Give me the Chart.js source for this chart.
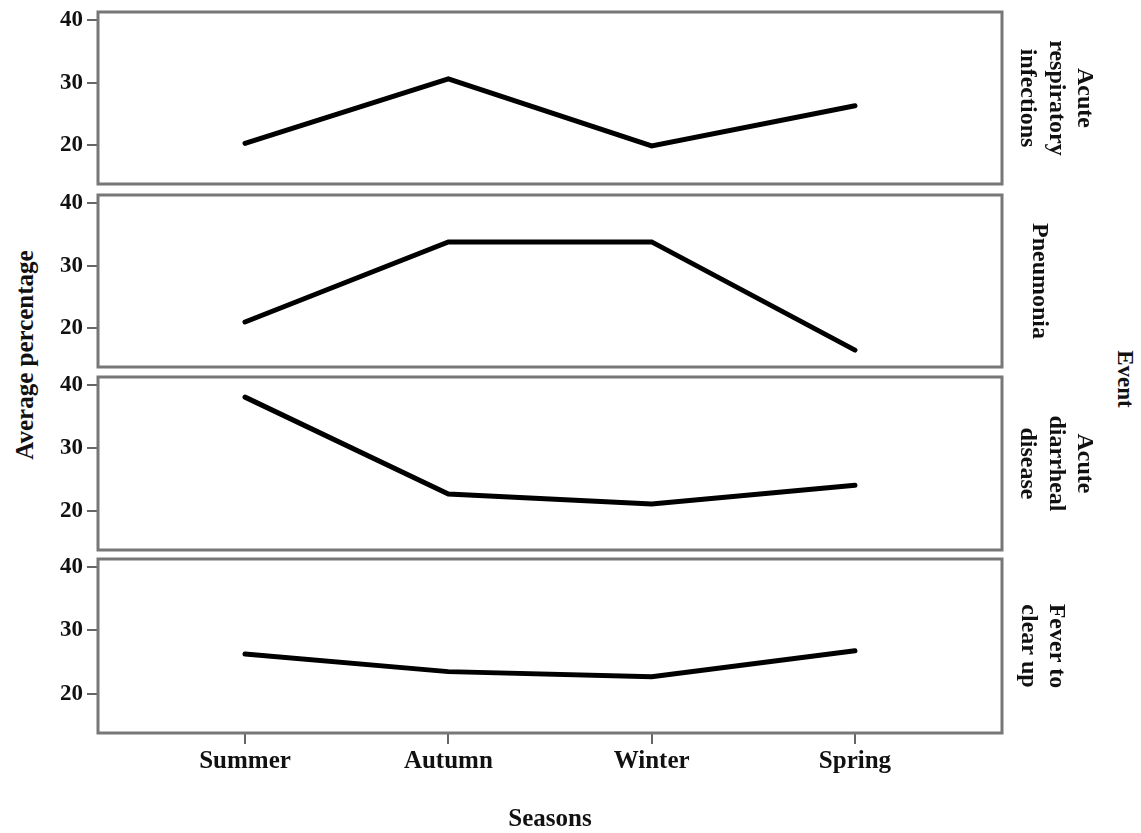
<!DOCTYPE html>
<html>
<head>
<meta charset="utf-8">
<script src="https://cdn.jsdelivr.net/npm/chart.js@4.4.0/dist/chart.umd.min.js"></script>
<style>
  body { margin: 0; background: #fff; }
  #wrap { position: relative; width: 1141px; height: 833px; overflow: hidden;
          font-family: 'Liberation Serif', 'Times New Roman', serif; font-weight: bold; color: #111; }
  #wrap canvas { position: absolute; left: 0; }
  .vt { position: absolute; white-space: nowrap; line-height: 1; }
</style>
</head>
<body>
<div id="wrap">
  <div class="vt" style="left:24px; top:355px; font-size:25px; transform:translate(-50%,-50%) rotate(-90deg);">Average percentage</div>
  <div class="vt" style="left:1125px; top:379px; font-size:23px; transform:translate(-50%,-50%) rotate(90deg);">Event</div>
</div>
<script>
// x categories and y ticks
var seasons = ['Summer', 'Autumn', 'Winter', 'Spring'];
var yTicks = [20, 30, 40];

// panel labels (one per event)
var eventNames = [
  ['Acute', 'respiratory', 'infections'],
  ['Pneumonia'],
  ['Acute', 'diarrheal', 'disease'],
  ['Fever to', 'clear up']
];

// average percentage per season
var respiratory = [20.3, 30.6, 19.9, 26.3];
var pneumonia   = [21.0, 33.8, 33.8, 16.5];
var diarrheal   = [38.1, 22.7, 21.1, 24.1];
var fever       = [26.3, 23.5, 22.7, 26.8];

var series = [respiratory, pneumonia, diarrheal, fever];

// layout of the four stacked panels
var panelTop = [12, 195, 377, 559];
var panelBottom = [184, 367, 550, 733];
var labelPad = [42, 87, 42, 70];

var serif = "'Liberation Serif', 'Times New Roman', serif";
var ink = '#111';

var boxPlugin = {
  id: 'box',
  afterDraw: function (chart) {
    var a = chart.chartArea, c = chart.ctx;
    c.save();
    c.strokeStyle = '#777';
    c.lineWidth = 3;
    c.strokeRect(a.left, a.top, a.right - a.left, a.bottom - a.top);
    c.restore();
  }
};

var wrap = document.getElementById('wrap');

series.forEach(function (vals, i) {
  var last = i === series.length - 1;
  var top = panelTop[i] - 20;
  var height = last ? 833 - top : (panelBottom[i] - panelTop[i]) + 40;

  var cv = document.createElement('canvas');
  cv.width = 1141;
  cv.height = height;
  cv.style.top = top + 'px';
  wrap.appendChild(cv);

  new Chart(cv.getContext('2d'), {
    type: 'line',
    data: {
      datasets: [{
        data: vals.map(function (v, k) { return {x: k, y: v}; }),
        borderColor: '#000',
        borderWidth: 5,
        borderCapStyle: 'round',
        pointRadius: 0,
        tension: 0,
        fill: false
      }]
    },
    options: {
      responsive: false,
      animation: false,
      events: [],
      layout: { padding: { top: 20, bottom: last ? 0 : 20, left: 0, right: 0 } },
      plugins: { legend: { display: false }, tooltip: { enabled: false } },
      scales: {
        x: {
          type: 'linear',
          display: last,
          min: -0.723,
          max: 3.723,
          afterBuildTicks: function (s) { s.ticks = seasons.map(function (n, k) { return {value: k}; }); },
          afterFit: function (s) { if (last) s.height = 100; },
          ticks: {
            callback: function (v) { return seasons[v]; },
            font: { family: serif, size: 25, weight: 'bold' },
            color: ink,
            padding: 3,
            maxRotation: 0,
            autoSkip: false
          },
          grid: { drawOnChartArea: false, tickLength: 11, color: '#666', lineWidth: 2 },
          border: { display: false },
          title: {
            display: true,
            text: 'Seasons',
            color: ink,
            font: { family: serif, size: 25, weight: 'bold', lineHeight: 1.1 },
            padding: { top: 0, bottom: 0 }
          }
        },
        y: {
          position: 'left',
          min: 13.8,
          max: 41.3,
          afterBuildTicks: function (s) { s.ticks = yTicks.map(function (v) { return {value: v}; }); },
          afterFit: function (s) { s.width = 98; },
          ticks: { font: { family: serif, size: 23, weight: 'bold' }, color: ink, padding: 4 },
          grid: { drawOnChartArea: false, tickLength: 11, color: '#666', lineWidth: 2 },
          border: { display: false }
        },
        y2: {
          position: 'right',
          display: true,
          ticks: { display: false },
          grid: { display: false },
          border: { display: false },
          afterFit: function (s) { s.width = 139; },
          title: {
            display: true,
            text: eventNames[i],
            color: ink,
            font: { family: serif, size: 24, weight: 'bold', lineHeight: 1.2 },
            padding: { top: labelPad[i], bottom: 0 }
          }
        }
      }
    },
    plugins: [boxPlugin]
  });
});
</script>
</body>
</html>
